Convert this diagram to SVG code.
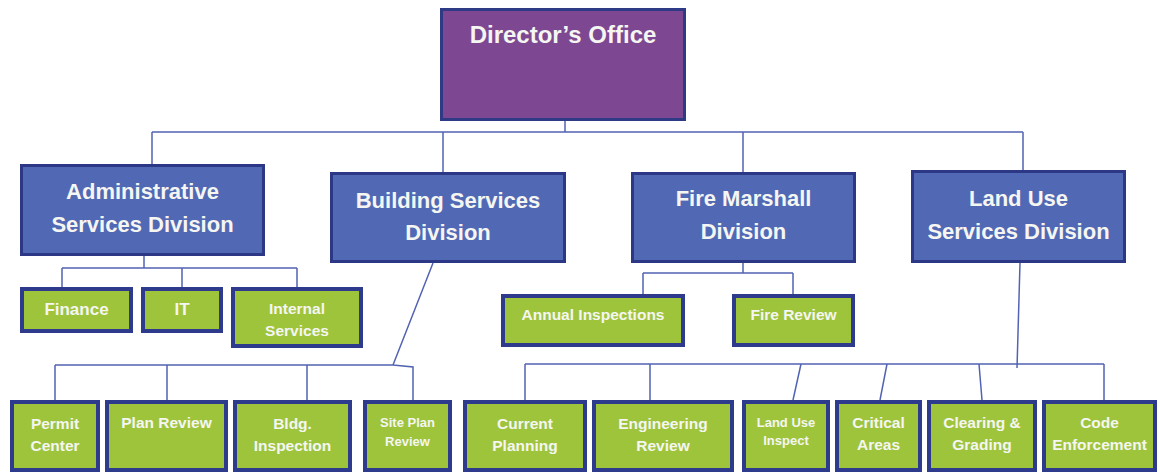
<svg xmlns="http://www.w3.org/2000/svg" width="1160" height="475" viewBox="0 0 1160 475">
<style>
.dir{fill:#7D4891;stroke:#2E3A86;stroke-width:3}
.div{fill:#5169B4;stroke:#2C3785;stroke-width:3}
.leaf{fill:#9EC43C;stroke:#2E3A8C;stroke-width:4}
.t{font-family:"Liberation Sans",Arial,sans-serif;font-weight:bold;fill:#F5F6F2;text-anchor:middle}
.big{font-size:24px}
.mid{font-size:22px}
.sm{font-size:15.5px}
.fi{font-size:17px}
.xs{font-size:13px}
.c{fill:none;stroke:#5363B3;stroke-width:1.5}
</style>
<rect width="1160" height="475" fill="#FFFFFF"/>
<g id="connectors">
<path class="c" d="M565 121V132M152 132H1023M152 132V164M443 132V172M743 132V172M1023 132V170"/>
<path class="c" d="M144 256V268M62 268H297M62 268V287M182 268V287M297 268V287"/>
<path class="c" d="M433 263L393 365M55 365H393L413 367V400M55 365V400M167 365V400M307 365V400"/>
<path class="c" d="M743 263V273M643 273H793M643 273V294M793 273V294"/>
<path class="c" d="M1020 263L1017 368M525 364H1104M525 364V400M650 364V400M801 364L793 400M887 364L880 400M979 364L982 400M1104 364V400"/>
</g>
<g id="directors-office"><rect class="dir" x="441.5" y="9.5" width="243" height="110"/><text class="t big" x="563" y="43">Director’s Office</text></g>
<g id="administrative"><rect class="div" x="21.5" y="165.5" width="242" height="89"/><text class="t mid" x="142.5" y="199">Administrative</text><text class="t mid" x="142.5" y="232">Services Division</text></g>
<g id="building"><rect class="div" x="331.5" y="173.5" width="233" height="88"/><text class="t mid" x="448" y="208">Building Services</text><text class="t mid" x="448" y="240">Division</text></g>
<g id="fire-marshall"><rect class="div" x="632.5" y="173.5" width="222" height="88"/><text class="t mid" x="743.5" y="206">Fire Marshall</text><text class="t mid" x="743.5" y="239">Division</text></g>
<g id="land-use"><rect class="div" x="912.5" y="171.5" width="212" height="90"/><text class="t mid" x="1018.5" y="206">Land Use</text><text class="t mid" x="1018.5" y="239">Services Division</text></g>
<g id="finance"><rect class="leaf" x="22" y="289" width="109" height="42"/><text class="t fi" x="76.5" y="315">Finance</text></g>
<g id="it"><rect class="leaf" x="143" y="289" width="78" height="42"/><text class="t fi" x="182" y="315">IT</text></g>
<g id="internal-services"><rect class="leaf" x="233" y="289" width="128" height="57"/><text class="t sm" x="297" y="313.5">Internal</text><text class="t sm" x="297" y="335.5">Services</text></g>
<g id="annual-inspections"><rect class="leaf" x="503" y="296" width="180" height="49"/><text class="t sm" x="593" y="319.5">Annual Inspections</text></g>
<g id="fire-review"><rect class="leaf" x="734" y="296" width="119" height="49"/><text class="t sm" x="793.5" y="319.5">Fire Review</text></g>
<g id="permit-center"><rect class="leaf" x="12" y="402" width="86" height="68"/><text class="t sm" x="55" y="428.5">Permit</text><text class="t sm" x="55" y="450.5">Center</text></g>
<g id="plan-review"><rect class="leaf" x="107" y="402" width="119" height="68"/><text class="t sm" x="166.5" y="427.5">Plan Review</text></g>
<g id="bldg-inspection"><rect class="leaf" x="235" y="402" width="115" height="68"/><text class="t sm" x="292.5" y="428.5">Bldg.</text><text class="t sm" x="292.5" y="450.5">Inspection</text></g>
<g id="site-plan-review"><rect class="leaf" x="365" y="402" width="85" height="68"/><text class="t xs" x="407.5" y="426.5">Site Plan</text><text class="t xs" x="407.5" y="445.5">Review</text></g>
<g id="current-planning"><rect class="leaf" x="465" y="402" width="120" height="68"/><text class="t sm" x="525" y="428.5">Current</text><text class="t sm" x="525" y="450.5">Planning</text></g>
<g id="engineering-review"><rect class="leaf" x="594" y="402" width="138" height="68"/><text class="t sm" x="663" y="428.5">Engineering</text><text class="t sm" x="663" y="450.5">Review</text></g>
<g id="land-use-inspect"><rect class="leaf" x="744" y="402" width="84" height="68"/><text class="t xs" x="786" y="426.5">Land Use</text><text class="t xs" x="786" y="444.5">Inspect</text></g>
<g id="critical-areas"><rect class="leaf" x="837" y="402" width="83" height="68"/><text class="t sm" x="878.5" y="427.5">Critical</text><text class="t sm" x="878.5" y="449.5">Areas</text></g>
<g id="clearing-grading"><rect class="leaf" x="929" y="402" width="106" height="68"/><text class="t sm" x="982" y="427.5">Clearing &amp;</text><text class="t sm" x="982" y="449.5">Grading</text></g>
<g id="code-enforcement"><rect class="leaf" x="1044" y="402" width="111" height="68"/><text class="t sm" x="1099.5" y="427.5">Code</text><text class="t sm" x="1099.5" y="449.5">Enforcement</text></g>
</svg>
